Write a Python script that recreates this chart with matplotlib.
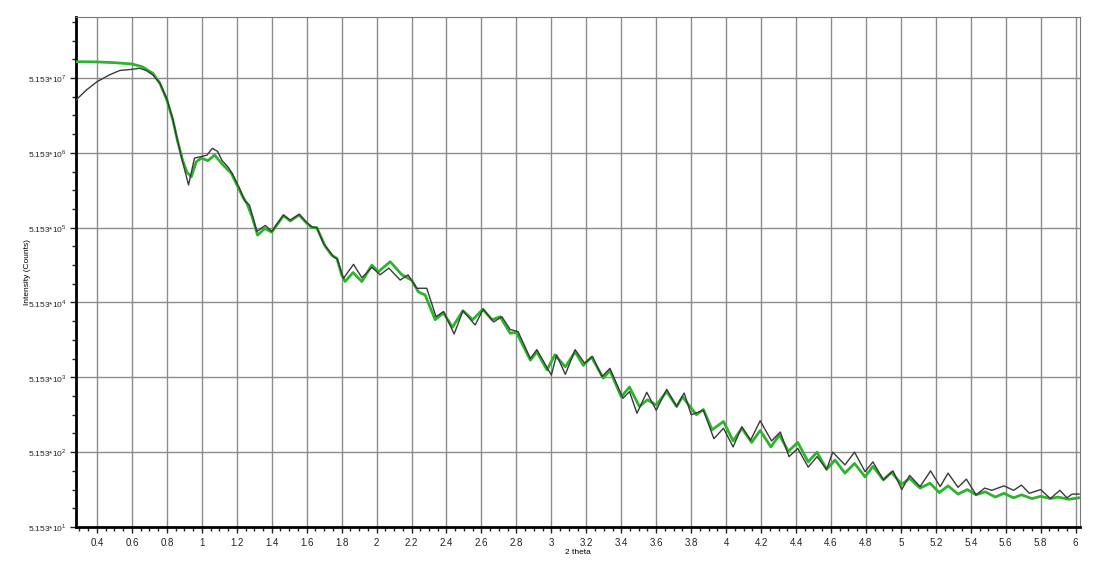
import numpy as np
import matplotlib
matplotlib.use("Agg")
import matplotlib.pyplot as plt
from matplotlib.ticker import FixedLocator, MultipleLocator, FuncFormatter

plt.rcParams['font.family'] = ['Liberation Sans', 'DejaVu Sans']
plt.rcParams['mathtext.fontset'] = 'custom'
plt.rcParams['mathtext.rm'] = 'Liberation Sans'

# simulated curve (green): 2 theta, log10(counts)
sim_theta = [0.28, 0.40, 0.50, 0.60, 0.66, 0.70, 0.72, 0.76, 0.80, 0.834, 0.86, 0.89, 0.915, 0.94,
             0.968, 0.997, 1.035, 1.073, 1.12, 1.168, 1.197, 1.235, 1.258, 1.287, 1.319, 1.36, 1.40,
             1.467, 1.506, 1.557, 1.60, 1.63, 1.658, 1.706, 1.744, 1.773, 1.80, 1.82, 1.865, 1.916,
             1.973, 2.01, 2.078, 2.145, 2.20, 2.24, 2.278, 2.335, 2.383, 2.434, 2.494, 2.55, 2.608,
             2.66, 2.707, 2.764, 2.80, 2.88, 2.917, 2.975, 3.02, 3.08, 3.136, 3.183, 3.23, 3.297,
             3.335, 3.40, 3.447, 3.504, 3.55, 3.60, 3.66, 3.717, 3.75, 3.83, 3.87, 3.92, 3.985, 4.04,
             4.09, 4.146, 4.195, 4.256, 4.305, 4.356, 4.41, 4.47, 4.52, 4.575, 4.623, 4.68, 4.735,
             4.795, 4.84, 4.90, 4.946, 5.005, 5.05, 5.11, 5.167, 5.22, 5.27, 5.327, 5.38, 5.43,
             5.483, 5.54, 5.59, 5.645, 5.69, 5.75, 5.80, 5.855, 5.90, 5.96, 6.02]
sim_log = [7.930, 7.927, 7.917, 7.899, 7.862, 7.802, 7.775, 7.642, 7.418, 7.152, 6.882, 6.612, 6.452, 6.392,
           6.592, 6.642, 6.607, 6.682, 6.552, 6.442, 6.302, 6.122, 6.037, 5.862, 5.612, 5.702, 5.652,
           5.872, 5.802, 5.882, 5.772, 5.712, 5.712, 5.462, 5.342, 5.302, 5.082, 4.992, 5.112, 4.992,
           5.212, 5.122, 5.257, 5.082, 5.012, 4.852, 4.812, 4.482, 4.572, 4.382, 4.602, 4.482, 4.622,
           4.482, 4.522, 4.302, 4.312, 3.942, 4.052, 3.812, 4.012, 3.852, 4.052, 3.872, 3.982, 3.702,
           3.802, 3.452, 3.582, 3.322, 3.412, 3.342, 3.522, 3.322, 3.452, 3.212, 3.282, 3.012, 3.122, 2.862,
           3.032, 2.842, 3.002, 2.782, 2.942, 2.722, 2.842, 2.582, 2.712, 2.482, 2.607, 2.432, 2.562,
           2.382, 2.522, 2.342, 2.442, 2.282, 2.362, 2.232, 2.297, 2.172, 2.262, 2.152, 2.212, 2.142,
           2.182, 2.112, 2.162, 2.102, 2.142, 2.092, 2.122, 2.092, 2.112, 2.082, 2.102]

# measured curve (dark grey)
meas_theta = [0.28, 0.34, 0.40, 0.47, 0.53, 0.60, 0.644, 0.682, 0.72, 0.76, 0.80, 0.834, 0.86, 0.89,
              0.924, 0.958, 0.997, 1.03, 1.06, 1.09, 1.115, 1.15, 1.175, 1.216, 1.245, 1.273, 1.315,
              1.363, 1.40, 1.467, 1.506, 1.557, 1.60, 1.63, 1.658, 1.696, 1.754, 1.775, 1.81, 1.868,
              1.916, 1.973, 2.02, 2.07, 2.135, 2.18, 2.23, 2.287, 2.34, 2.383, 2.444, 2.494, 2.564,
              2.61, 2.67, 2.717, 2.764, 2.81, 2.88, 2.917, 3.00, 3.03, 3.08, 3.136, 3.19, 3.235, 3.29,
              3.335, 3.41, 3.447, 3.49, 3.546, 3.60, 3.66, 3.717, 3.76, 3.80, 3.87, 3.93, 3.985, 4.04,
              4.09, 4.14, 4.195, 4.26, 4.31, 4.36, 4.41, 4.47, 4.52, 4.575, 4.61, 4.68, 4.735, 4.795,
              4.84, 4.90, 4.955, 5.005, 5.05, 5.11, 5.17, 5.225, 5.27, 5.327, 5.375, 5.43, 5.48, 5.52,
              5.59, 5.645, 5.69, 5.735, 5.80, 5.855, 5.91, 5.95, 5.98, 6.02]
meas_log = [7.418, 7.552, 7.662, 7.752, 7.812, 7.828, 7.842, 7.812, 7.752, 7.642, 7.432, 7.162, 6.882, 6.592,
            6.282, 6.642, 6.662, 6.682, 6.772, 6.732, 6.612, 6.522, 6.432, 6.237, 6.072, 6.012, 5.662,
            5.742, 5.662, 5.882, 5.812, 5.892, 5.782, 5.722, 5.712, 5.502, 5.322, 5.292, 5.032, 5.222,
            5.042, 5.182, 5.082, 5.172, 5.012, 5.082, 4.902, 4.902, 4.522, 4.592, 4.292, 4.602, 4.412,
            4.622, 4.452, 4.522, 4.352, 4.322, 3.962, 4.082, 3.742, 4.012, 3.752, 4.082, 3.902, 3.992, 3.722,
            3.832, 3.432, 3.522, 3.232, 3.512, 3.272, 3.552, 3.322, 3.502, 3.212, 3.272, 2.892, 3.032, 2.782,
            3.052, 2.872, 3.132, 2.862, 2.982, 2.652, 2.762, 2.512, 2.652, 2.482, 2.712, 2.542, 2.712, 2.452,
            2.582, 2.342, 2.462, 2.212, 2.402, 2.252, 2.462, 2.252, 2.432, 2.242, 2.352, 2.142, 2.232, 2.202,
            2.262, 2.202, 2.272, 2.162, 2.212, 2.092, 2.202, 2.102, 2.152, 2.152]

y_exponents = [1, 2, 3, 4, 5, 6, 7]
y_base = 5.153

fig = plt.figure(figsize=(10.93, 5.61), dpi=100)
ax = fig.add_axes([76 / 1093, 1 - 527 / 561, (1080 - 76) / 1093, (527 - 17) / 561])

ax.plot(sim_theta, 10 ** np.array(sim_log), color='#2cb52c', lw=2.0, zorder=3,
        solid_joinstyle='round')
ax.plot(meas_theta, 10 ** np.array(meas_log), color='#3a3a3a', lw=1.0, zorder=4,
        solid_joinstyle='round')

ax.set_yscale('log')
ax.set_xlim(0.28, 6.025)
ax.set_ylim(y_base * 10 ** 1, y_base * 10 ** 7.815)

major_y = [y_base * 10 ** n for n in y_exponents]
minor_y = [y_base * 10 ** (n + k / 4) for n in y_exponents for k in (1, 2, 3)]
ax.yaxis.set_major_locator(FixedLocator(major_y))
ax.yaxis.set_minor_locator(FixedLocator(minor_y))
ax.set_yticklabels(['5.153*10$^{%d}$' % n for n in y_exponents])

ax.xaxis.set_major_locator(MultipleLocator(0.2))
ax.xaxis.set_minor_locator(MultipleLocator(0.05))
ax.xaxis.set_major_formatter(FuncFormatter(lambda v, p: '%g' % round(v, 2)))

ax.tick_params(axis='both', which='both', direction='out', colors='#222222')
ax.tick_params(axis='y', labelsize=6, pad=3)
ax.tick_params(axis='x', labelsize=7, pad=4)
ax.tick_params(axis='both', which='major', length=4, width=1)
ax.tick_params(axis='both', which='minor', length=3, width=1)

ax.grid(True, which='major', color='#8c8c8c', lw=1.0)
ax.set_axisbelow(True)

ax.spines['left'].set_linewidth(2)
ax.spines['bottom'].set_linewidth(2)
ax.spines['top'].set_color('#777777')
ax.spines['right'].set_color('#777777')

ax.set_xlabel('2 theta', fontsize=6, labelpad=1)
ax.set_ylabel('Intensity (Counts)', fontsize=6)
ax.yaxis.set_label_coords(-0.045, 0.5)

fig.savefig('out.png', dpi=100)
